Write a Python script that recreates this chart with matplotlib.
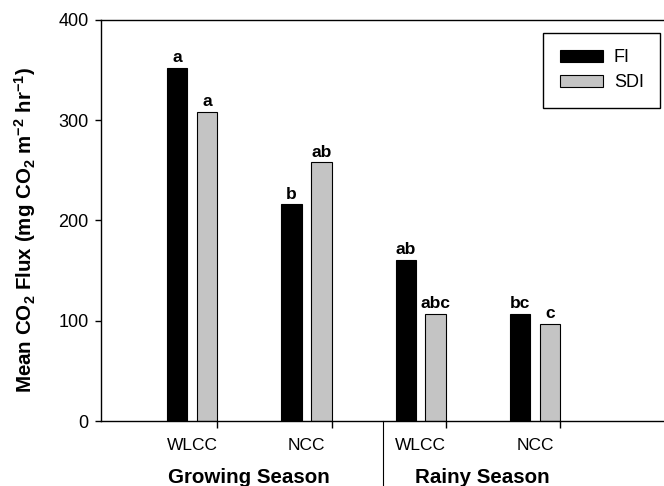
import matplotlib
matplotlib.use("Agg")
import matplotlib.pyplot as plt
import matplotlib.transforms as mtransforms
import numpy as np

plt.rcParams['font.family'] = ['Liberation Sans', 'DejaVu Sans']
plt.rcParams['mathtext.fontset'] = 'custom'
plt.rcParams['mathtext.rm'] = 'Liberation Sans'
plt.rcParams['mathtext.bf'] = 'Liberation Sans:bold'
plt.rcParams['mathtext.it'] = 'Liberation Sans:italic'

# Data
seasons = ["Growing Season", "Rainy Season"]
sites = ["WLCC", "NCC", "WLCC", "NCC"]
fi_values = [352, 216, 161, 107]
sdi_values = [308, 258, 107, 97]
fi_letters = ["a", "b", "ab", "bc"]
sdi_letters = ["a", "ab", "abc", "c"]
yticks = [0, 100, 200, 300, 400]

W, H = 664, 486
fig = plt.figure(figsize=(W / 100, H / 100), dpi=100)
ax = fig.add_axes([101 / W, 1 - 421 / H, 1 - 101 / W, (421 - 20) / H])

x = np.arange(len(sites))
bw = 0.18
off = 0.13
ax.bar(x - off, fi_values, bw, color="black", edgecolor="black", linewidth=0.8, label="FI", zorder=2)
ax.bar(x + off, sdi_values, bw, color="#c4c4c4", edgecolor="black", linewidth=0.8, label="SDI", zorder=2)

for xi, v, t in zip(x - off, fi_values, fi_letters):
    ax.annotate(t, (xi, v), xytext=(0, 2), textcoords="offset points",
                ha="center", va="bottom", fontsize=12.5, fontweight="bold")
for xi, v, t in zip(x + off, sdi_values, sdi_letters):
    ax.annotate(t, (xi, v), xytext=(0, 2), textcoords="offset points",
                ha="center", va="bottom", fontsize=12.5, fontweight="bold")

ax.set_xlim(-0.796, 4.128)
ax.set_ylim(0, 400)
ax.set_yticks(yticks)
ax.tick_params(axis="y", direction="out", length=4.5, width=1.0, pad=4.5, labelsize=13)

ax.set_xticks(x)
ax.set_xticklabels(sites, fontsize=12.5)
ax.tick_params(axis="x", which="major", length=0, pad=12)
ax.set_xticks(x + 0.22, minor=True)
ax.tick_params(axis="x", which="minor", direction="out", length=5, width=1.0)

for side in ("left", "bottom", "top"):
    ax.spines[side].set_linewidth(1.0)
ax.spines["right"].set_visible(False)

# season separator and season labels below the axis
trans = mtransforms.blended_transform_factory(ax.transData, ax.transAxes)
ax.plot([1.67, 1.67], [0, -0.2], color="black", linewidth=0.8, transform=trans, clip_on=False)
ax.text(0.5, -0.1546, seasons[0], transform=trans, ha="center", va="baseline",
        fontsize=14.8, fontweight="bold")
ax.text(2.54, -0.1546, seasons[1], transform=trans, ha="center", va="baseline",
        fontsize=14.8, fontweight="bold")

ax.set_ylabel(r"$\mathbf{Mean\ CO_2\ Flux\ (mg\ CO_2\ m^{-2}\ hr^{-1})}$", fontsize=14.8)
ax.yaxis.set_label_coords(-0.112, 0.476)

leg = ax.legend(loc="upper right", bbox_to_anchor=(660 / W, 1 - 33 / H),
                bbox_transform=fig.transFigure, fontsize=13, frameon=True,
                fancybox=False, edgecolor="black", framealpha=1,
                handlelength=2.4, handleheight=0.7, borderpad=0.9, labelspacing=0.45,
                handletextpad=0.6, borderaxespad=0)
leg.get_frame().set_linewidth(1.0)

fig.savefig("out.png", dpi=100)
